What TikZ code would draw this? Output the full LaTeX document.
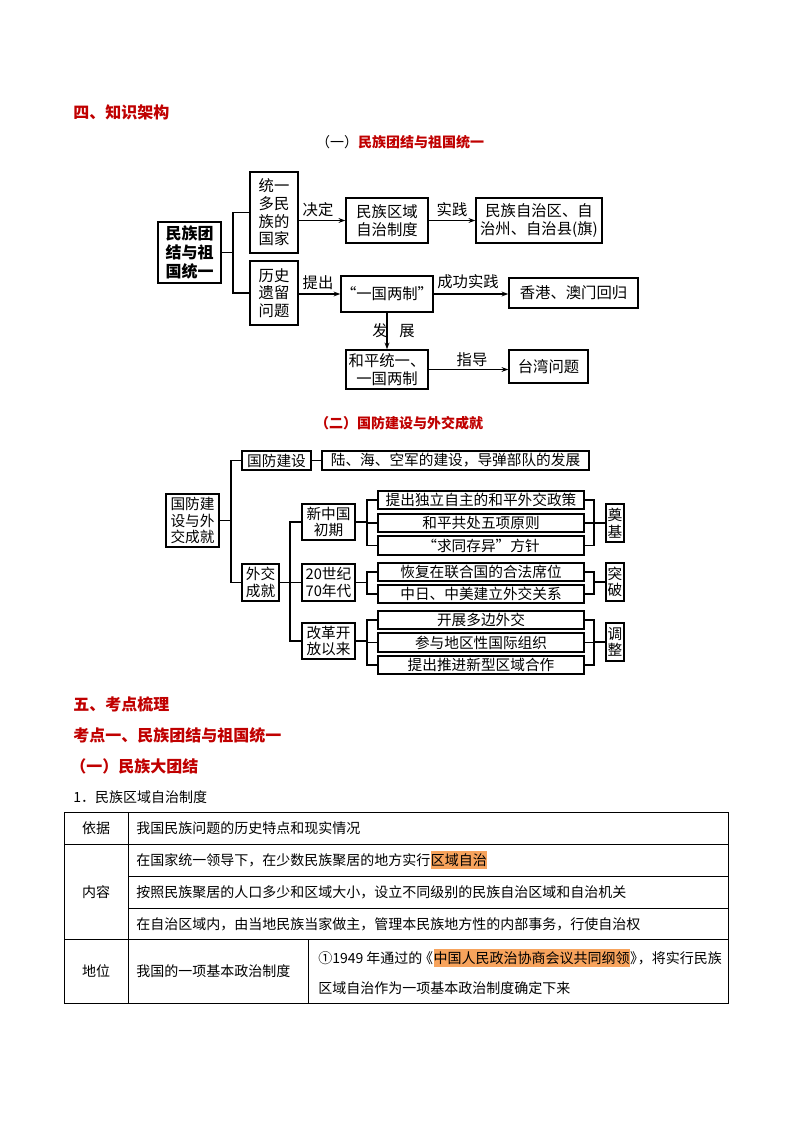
\documentclass[tikz,border=0pt]{standalone}
\usepackage{fontspec}
\setmainfont{Noto Sans CJK SC}
\usetikzlibrary{arrows.meta,shadows,calc}
\definecolor{hred}{RGB}{192,0,0}
\definecolor{hlc}{RGB}{247,163,92}
\newcommand\mybox[7][]{\node[#1, minimum width={(#5-#3)*0.75pt}, minimum height={(#6-#4)*0.75pt}] (#2) at ({(#3+#5)/2},{(#4+#6)/2}) {#7};}
\tikzset{
  boxa/.style={draw, line width=1.1pt, align=center, inner sep=0pt, fill=white, font=\fontsize{11.5}{13.2}\selectfont},
  boxb/.style={draw, line width=0.9pt, align=center, inner sep=0pt, fill=white, font=\fontsize{11}{12.5}\selectfont,
    drop shadow={shadow xshift=0.8pt, shadow yshift=-0.8pt, fill=black!50, opacity=1}},
  conn/.style={line width=0.8pt},
  arr/.style={line width=0.8pt, -{Stealth[length=5pt,width=3.6pt]}},
  lbl/.style={font=\fontsize{11.5}{13}\selectfont, inner sep=0pt},
  cell/.style={font=\fontsize{10.5}{12}\selectfont, inner sep=0pt, text height=0.88em, text depth=0.12em},
  hlcell/.style={cell, fill=hlc, inner ysep=1.5pt},
  head/.style={font=\fontsize{12}{14}\selectfont\bfseries, text=hred, inner sep=0pt, anchor=west},
  tbl/.style={line width=0.75pt},
}
\begin{document}
\begin{tikzpicture}[x=0.75pt, y=-0.75pt]
\fill[white] (0,0) rectangle (794,1123);
\useasboundingbox (0,0) rectangle (794,1123);

% headings
\node[head] (h4) at (73,112) {四、知识架构};
\node[font=\fontsize{10.5}{12}\selectfont, inner sep=0pt] (t1) at (400,142) {（一）\textcolor{hred}{\bfseries 民族团结与祖国统一}};

% diagram 1
\mybox[boxa, font=\fontsize{12}{14}\selectfont\bfseries]{root}{158}{222}{221}{283}{民族团\\结与祖\\国统一}
\mybox[boxa]{tongyi}{250}{172}{298}{253}{统一\\多民\\族的\\国家}
\mybox[boxa]{lishi}{250}{261}{298}{325}{历史\\遗留\\问题}
\mybox[boxa]{zhidu}{346}{198}{428}{243}{民族区域\\自治制度}
\mybox[boxa]{zizhi}{476}{198}{602}{243}{民族自治区、自\\治州、自治县(旗)}
\mybox[boxa]{yiguo}{346}{276}{428}{312}{“一国两制”}
\mybox[boxa]{xg}{509}{278}{638}{308}{香港、澳门回归}
\mybox[boxa]{heping}{346}{350}{428}{389}{和平统一、\\一国两制}
\mybox[boxa]{taiwan}{509}{350}{588}{383}{台湾问题}

\coordinate (b1) at (233,0);
\draw[conn] (root.east) -- (root.east -| b1);
\draw[conn] (tongyi.west) -- (b1 |- tongyi.west) -- (b1 |- lishi.west) -- (lishi.west);
\draw[arr] (tongyi.east |- zhidu.west) -- (zhidu.west);
\draw[arr] (zhidu.east) -- (zizhi.west);
\draw[arr] (lishi.east |- yiguo.west) -- (yiguo.west);
\draw[arr] (yiguo.east) -- (yiguo.east -| xg.west);
\draw[arr] (yiguo.south) -- (heping.north);
\draw[arr] (heping.east) -- (heping.east -| taiwan.west);
\node[lbl] (l1) at (318,210) {决定};
\node[lbl] (l2) at (452,210) {实践};
\node[lbl] (l3) at (318,283) {提出};
\node[lbl] (l4) at (468,282) {成功实践};
\node[lbl] (l5) at (380,331) {发};
\node[lbl] (l6) at (407,331) {展};
\node[lbl] (l7) at (472,360) {指导};

% diagram 2
\node[font=\fontsize{10.5}{12}\selectfont\bfseries, text=hred, inner sep=0pt] (t2) at (399,423) {（二）国防建设与外交成就};
\mybox[boxb]{root2}{166}{494}{219}{547}{国防建\\设与外\\交成就}
\mybox[boxb]{gf}{242}{451}{311}{470}{国防建设}
\mybox[boxb]{lu}{322}{451}{589}{470}{陆、海、空军的建设，导弹部队的发展}
\mybox[boxb]{wj}{242}{564}{279}{601}{外交\\成就}
\mybox[boxb]{xin}{302}{504}{355}{540}{新中国\\初期}
\mybox[boxb]{qs}{302}{564}{355}{601}{20世纪\\70年代}
\mybox[boxb]{gg}{302}{623}{355}{659}{改革开\\放以来}
\mybox[boxb]{i1}{378}{491}{584}{509}{提出独立自主的和平外交政策}
\mybox[boxb]{i2}{378}{514}{584}{532}{和平共处五项原则}
\mybox[boxb]{i3}{378}{536}{584}{555}{“求同存异”方针}
\mybox[boxb]{i4}{378}{563}{584}{581}{恢复在联合国的合法席位}
\mybox[boxb]{i5}{378}{585}{584}{603}{中日、中美建立外交关系}
\mybox[boxb]{i6}{378}{611}{584}{629}{开展多边外交}
\mybox[boxb]{i7}{378}{633}{584}{652}{参与地区性国际组织}
\mybox[boxb]{i8}{378}{656}{584}{674}{提出推进新型区域合作}
\mybox[boxb]{dj}{606}{504}{624}{542}{奠\\基}
\mybox[boxb]{tp}{606}{563}{624}{601}{突\\破}
\mybox[boxb]{tz}{606}{623}{624}{661}{调\\整}

\coordinate (c1) at (231,0);
\coordinate (c2) at (290,0);
\coordinate (c3) at (367,0);
\coordinate (c4) at (594,0);
\draw[conn] (root2.east) -- (root2.east -| c1);
\draw[conn] (gf.west) -- (c1 |- gf.west) -- (c1 |- wj.west) -- (wj.west);
\draw[conn] (gf.east) -- (lu.west);
\draw[conn] (wj.east) -- (wj.east -| c2);
\draw[conn] (xin.west) -- (c2 |- xin.west) -- (c2 |- gg.west) -- (gg.west);
\draw[conn] (c2 |- qs.west) -- (qs.west);
% left sub-brackets
\draw[conn] (xin.east) -- (xin.east -| c3);
\draw[conn] (i1.west) -- (c3 |- i1.west) -- (c3 |- i3.west) -- (i3.west);
\draw[conn] (c3 |- i2.west) -- (i2.west);
\draw[conn] (qs.east) -- (qs.east -| c3);
\draw[conn] (i4.west) -- (c3 |- i4.west) -- (c3 |- i5.west) -- (i5.west);
\draw[conn] (gg.east) -- (gg.east -| c3);
\draw[conn] (i6.west) -- (c3 |- i6.west) -- (c3 |- i8.west) -- (i8.west);
\draw[conn] (c3 |- i7.west) -- (i7.west);
% right sub-brackets
\draw[conn] (i1.east) -- (c4 |- i1.east) -- (c4 |- i3.east) -- (i3.east);
\draw[conn] (i2.east) -- (c4 |- i2.east);
\draw[conn] (c4 |- dj.west) -- (dj.west);
\draw[conn] (i4.east) -- (c4 |- i4.east) -- (c4 |- i5.east) -- (i5.east);
\draw[conn] (c4 |- tp.west) -- (tp.west);
\draw[conn] (i6.east) -- (c4 |- i6.east) -- (c4 |- i8.east) -- (i8.east);
\draw[conn] (i7.east) -- (c4 |- i7.east);
\draw[conn] (c4 |- tz.west) -- (tz.west);

% section 5
\node[head] (h5) at (73,704) {五、考点梳理};
\node[head] (k1) at (73,735) {考点一、民族团结与祖国统一};
\node[head] (k2) at (70,766) {（一）民族大团结};
\node[cell, anchor=west] (s1) at (73,797) {1．民族区域自治制度};

% table
\draw[tbl] (64,812) rectangle (728,1003);
\draw[tbl] (64,844) -- (728,844);
\draw[tbl] (128,876) -- (728,876);
\draw[tbl] (128,908) -- (728,908);
\draw[tbl] (64,939) -- (728,939);
\draw[tbl] (128,812) -- (128,1003);
\draw[tbl] (308,939) -- (308,1003);

\node[cell] (yj) at (96,828) {依据};
\node[cell, anchor=west] (r1) at (136,828) {我国民族问题的历史特点和现实情况};
\node[cell, anchor=west] (r2a) at (136,860) {在国家统一领导下，在少数民族聚居的地方实行};
\node[hlcell, anchor=west] (r2b) at (r2a.east) {区域自治};
\node[cell] (nr) at (96,892) {内容};
\node[cell, anchor=west] (r3) at (136,892) {按照民族聚居的人口多少和区域大小，设立不同级别的民族自治区域和自治机关};
\node[cell, anchor=west] (r4) at (136,924) {在自治区域内，由当地民族当家做主，管理本民族地方性的内部事务，行使自治权};
\node[cell] (dw) at (96,971) {地位};
\node[cell, anchor=west] (r5) at (136,971) {我国的一项基本政治制度};
\node[cell, anchor=west] (r6a) at (318,958) {①1949 年通过的\kern-0.25em《};
\node[hlcell, anchor=west] (r6b) at (r6a.east) {中国人民政治协商会议共同纲领};
\node[cell, anchor=west] (r6c) at (r6b.east) {》\kern-0.45em，将实行民族};
\node[cell, anchor=west] (r7) at (318,988) {区域自治作为一项基本政治制度确定下来};
\end{tikzpicture}
\end{document}
